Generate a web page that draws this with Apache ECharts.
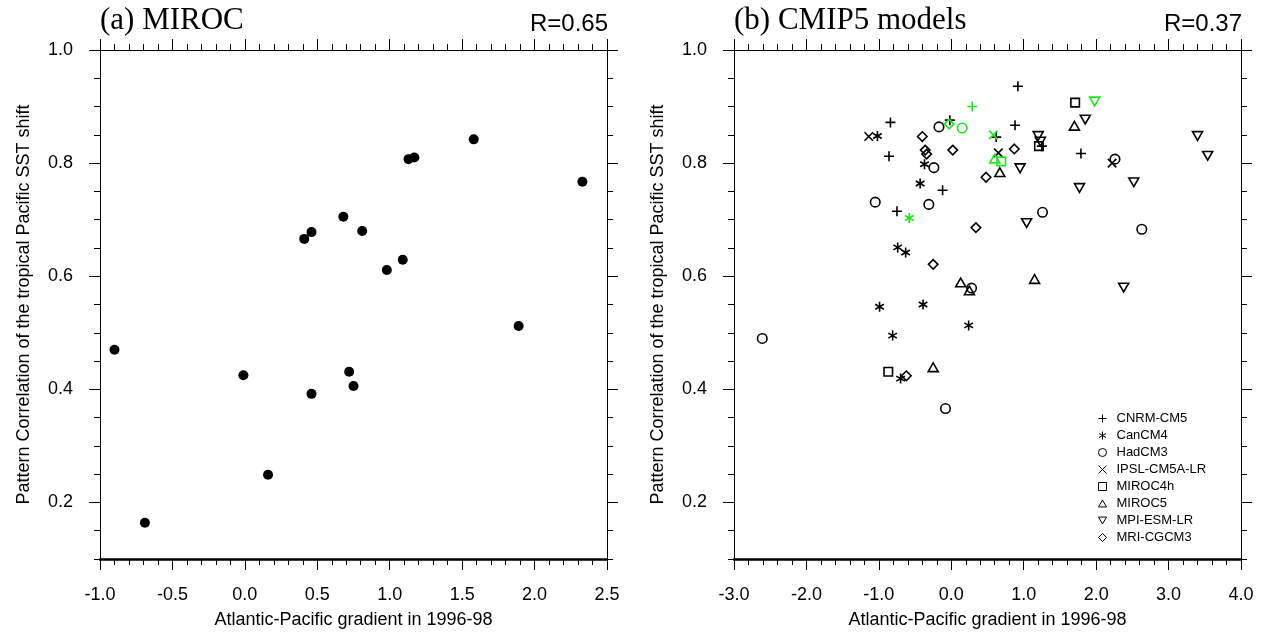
<!DOCTYPE html>
<html><head><meta charset="utf-8">
<script src="https://cdn.jsdelivr.net/npm/echarts@6/dist/echarts.min.js"></script>
<style>html,body{margin:0;padding:0;background:#fff}#c{width:1266px;height:637px}</style>
</head><body><div id="c"></div>
<script>
// ---------- Panel (a) MIROC ----------
const mirocGradient = [-0.90, -0.69, -0.01, 0.16, 0.46, 0.41, 0.46, 0.68, 0.81, 0.72, 0.75, 0.98, 1.09, 1.13, 1.17, 1.58, 1.89, 2.33];
const mirocCorr     = [0.470, 0.164, 0.425, 0.249, 0.392, 0.666, 0.678, 0.705, 0.680, 0.431, 0.406, 0.611, 0.629, 0.807, 0.810, 0.842, 0.512, 0.767];

// ---------- Panel (b) CMIP5 models: [gradient, correlation] ----------
const cnrmBlack = [[-0.84,0.872],[-0.86,0.812],[-0.02,0.876],[-0.12,0.752],[-0.75,0.715],[0.92,0.936],[0.88,0.867],[0.62,0.846],[1.25,0.830],[1.79,0.817]];
const cnrmGreen = [[0.29,0.900]];
const canBlack = [[-1.02,0.848],[-0.37,0.798],[-0.43,0.764],[-0.74,0.651],[-0.63,0.642],[-0.99,0.546],[-0.39,0.550],[-0.81,0.495],[-0.70,0.419],[0.24,0.513]];
const canGreen = [[-0.58,0.703]];
const hadBlack = [[-0.17,0.864],[-0.24,0.792],[-1.05,0.731],[-0.31,0.727],[1.26,0.713],[2.26,0.807],[2.63,0.683],[-2.61,0.490],[-0.08,0.366],[0.28,0.579]];
const hadGreen = [[0.15,0.862]];
const ipslBlack = [[-1.14,0.847],[0.65,0.818],[2.22,0.800]];
const ipslGreen = [[0.58,0.850]];
const miroc4hBlack = [[1.71,0.907],[1.21,0.830],[-0.87,0.431]];
const miroc4hGreen = [[0.69,0.803]];
const miroc5Black = [[1.70,0.866],[0.67,0.784],[0.13,0.589],[0.25,0.575],[1.15,0.595],[-0.25,0.439]];
const miroc5Green = [[0.60,0.808]];
const mpiBlack = [[1.85,0.877],[1.20,0.848],[1.23,0.838],[3.40,0.848],[3.54,0.813],[0.95,0.791],[1.77,0.756],[2.52,0.766],[1.04,0.694],[2.38,0.580]];
const mpiGreen = [[1.98,0.909]];
const mriBlack = [[-0.40,0.847],[-0.36,0.823],[-0.34,0.816],[0.02,0.823],[0.87,0.825],[0.48,0.775],[0.34,0.686],[-0.25,0.621],[-0.62,0.424]];
const mriGreen = [[-0.03,0.869]];

const modelNames = ['CNRM-CM5','CanCM4','HadCM3','IPSL-CM5A-LR','MIROC4h','MIROC5','MPI-ESM-LR','MRI-CGCM3'];
const yMajorLabels = ['0.2','0.4','0.6','0.8','1.0'];

// ---------- styling ----------
const SANS = 'Liberation Sans, Arial, Helvetica, sans-serif';
const SERIF = 'Liberation Serif, Times New Roman, serif';
const GREEN = '#1ee51e';
const symPlus = 'path://M0,5L10,5M5,0L5,10';
const symCross = 'path://M0,0L10,10M10,0L0,10';
const symStar = 'path://M5,0L5,10M0.67,2.5L9.33,7.5M0.67,7.5L9.33,2.5';
const symDown = 'path://M0,0L10,0L5,8.66Z';
const symUp = 'path://M5,0L10,8.66L0,8.66Z';
const modelSymbols = [
  {symbol: symPlus, size: 10},
  {symbol: symStar, size: 10},
  {symbol: 'circle', size: 9.5},
  {symbol: symCross, size: 8.5},
  {symbol: 'rect', size: 8.5},
  {symbol: symUp, size: 10},
  {symbol: symDown, size: 10},
  {symbol: 'diamond', size: 9.5}
];
const modelBlack = [cnrmBlack, canBlack, hadBlack, ipslBlack, miroc4hBlack, miroc5Black, mpiBlack, mriBlack];
const modelGreen = [cnrmGreen, canGreen, hadGreen, ipslGreen, miroc4hGreen, miroc5Green, mpiGreen, mriGreen];

// y tick grid positions (0.05 step from 0.10 to 1.00)
const yCats = [];
for (let i = 0; i <= 18; i++) yCats.push((0.1 + i * 0.05).toFixed(2));
const isMajorCat = (idx) => Math.round(parseFloat(yCats[idx]) * 100) % 20 === 0;

function xAxes(gi, min, max, interval, name) {
  const common = {
    gridIndex: gi, type: 'value', min: min, max: max, interval: interval,
    splitLine: {show: false},
    axisTick: {show: true, inside: false, length: 11, lineStyle: {color: '#000', width: 1}},
    minorTick: {show: true, splitNumber: 5, length: 6, lineStyle: {color: '#000', width: 1}},
  };
  return [
    Object.assign({}, common, {
      position: 'bottom',
      axisLine: {show: true, onZero: false, lineStyle: {color: '#000', width: 2.5}},
      axisLabel: {margin: 27, fontSize: 18, color: '#000', fontFamily: SANS, formatter: v => v.toFixed(1)},
      name: name, nameLocation: 'middle', nameGap: 52,
      nameTextStyle: {fontSize: 18, color: '#000', fontFamily: SANS}
    }),
    Object.assign({}, common, {
      position: 'top',
      axisLine: {show: true, onZero: false, lineStyle: {color: '#000', width: 1}},
      axisLabel: {show: false}
    })
  ];
}
function yAxes(gi) {
  const valueCommon = {
    gridIndex: gi, type: 'value', min: 0.1, max: 1.0, interval: 0.05,
    splitLine: {show: false},
    axisLine: {show: true, onZero: false, lineStyle: {color: '#000', width: 1}},
    axisTick: {show: true, inside: false, length: 6, lineStyle: {color: '#000', width: 1}}
  };
  const catCommon = {
    gridIndex: gi, type: 'category', data: yCats, boundaryGap: false,
    splitLine: {show: false}, axisLine: {show: false, onZero: false},
    axisTick: {show: true, inside: false, length: 11, interval: (i) => isMajorCat(i), lineStyle: {color: '#000', width: 1}},
    axisLabel: {show: false}
  };
  return [
    Object.assign({}, valueCommon, {
      position: 'left',
      axisLabel: {margin: 27, fontSize: 18, color: '#000', fontFamily: SANS,
        formatter: v => { const s = v.toFixed(1); return (yMajorLabels.indexOf(s) >= 0 && Math.abs(v - parseFloat(s)) < 1e-6) ? s : ''; }},
      name: 'Pattern Correlation of the tropical Pacific SST shift',
      nameLocation: 'middle', nameGap: 67, nameRotate: 90,
      nameTextStyle: {fontSize: 18, color: '#000', fontFamily: SANS}
    }),
    Object.assign({}, valueCommon, {position: 'right', axisLabel: {show: false}}),
    Object.assign({}, catCommon, {position: 'left'}),
    Object.assign({}, catCommon, {position: 'right'})
  ];
}

const series = [];
series.push({
  type: 'scatter', xAxisIndex: 0, yAxisIndex: 0, symbol: 'circle', symbolSize: 10,
  itemStyle: {color: '#000', opacity: 1},
  data: mirocGradient.map((g, i) => [g, mirocCorr[i]]),
  emphasis: {disabled: true}
});
modelNames.forEach((name, k) => {
  const s = modelSymbols[k];
  const black = modelBlack[k].map(p => ({value: p}));
  const green = modelGreen[k].map(p => ({value: p, itemStyle: {borderColor: GREEN}}));
  series.push({
    type: 'scatter', name: name, xAxisIndex: 2, yAxisIndex: 4,
    symbol: s.symbol, symbolSize: s.size, symbolKeepAspect: true,
    itemStyle: {color: 'rgba(0,0,0,0)', borderColor: '#000', borderWidth: 1.6, opacity: 1},
    data: black.concat(green),
    emphasis: {disabled: true}
  });
});

const option = {
  backgroundColor: '#fff',
  animation: false,
  textStyle: {fontFamily: SANS},
  title: [
    {text: '(a) MIROC', left: 100, top: 5, padding: 0, textStyle: {fontFamily: SERIF, fontSize: 31, fontWeight: 'normal', color: '#000'}},
    {text: 'R=0.65', right: 658, top: 12, padding: 0, textStyle: {fontFamily: SANS, fontSize: 24, fontWeight: 'normal', color: '#000'}},
    {text: '(b) CMIP5 models', left: 734, top: 5, padding: 0, textStyle: {fontFamily: SERIF, fontSize: 31, fontWeight: 'normal', color: '#000'}},
    {text: 'R=0.37', right: 24, top: 12, padding: 0, textStyle: {fontFamily: SANS, fontSize: 24, fontWeight: 'normal', color: '#000'}}
  ],
  legend: {
    orient: 'vertical', left: 1093, top: 407, itemWidth: 8, itemHeight: 8, itemGap: 4,
    textStyle: {fontSize: 13, color: '#000', fontFamily: SANS, padding: [0, 0, 0, 5]},
    itemStyle: {borderWidth: 1},
    data: modelNames, selectedMode: false
  },
  grid: [
    {left: 100, top: 50, width: 507, height: 509},
    {left: 734, top: 50, width: 507, height: 509}
  ],
  xAxis: xAxes(0, -1, 2.5, 0.5, 'Atlantic-Pacific gradient in 1996-98')
    .concat(xAxes(1, -3, 4, 1, 'Atlantic-Pacific gradient in 1996-98')),
  yAxis: yAxes(0).concat(yAxes(1)),
  series: series
};
const chart = echarts.init(document.getElementById('c'), null, {renderer: 'canvas'});
chart.setOption(option);
</script>
</body></html>
